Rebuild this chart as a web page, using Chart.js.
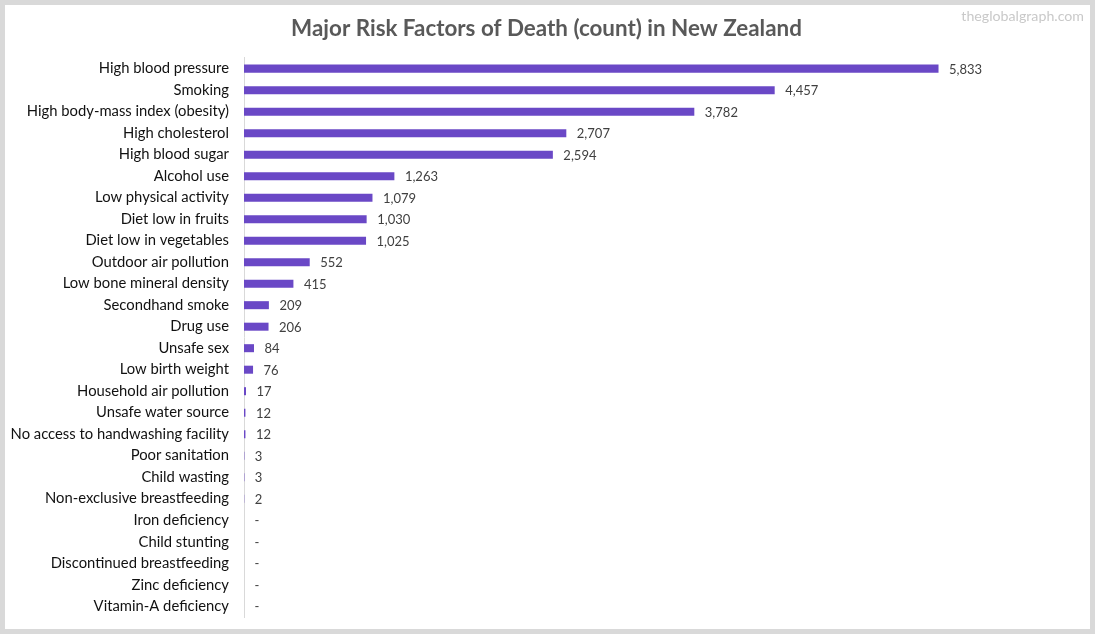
<!DOCTYPE html>
<html>
<head>
<meta charset="utf-8">
<script src="https://cdn.jsdelivr.net/npm/chart.js@4"></script>
<style>
    html, body { margin: 0; padding: 0; background: #fff; }
    .frame { position: relative; width: 1095px; height: 634px; box-sizing: border-box; border: 5px solid #d9d9d9; background: #fff; }
    canvas { position: absolute; left: -5px; top: -5px; }
</style>
</head>
<body>
<div class="frame"><canvas id="chart" width="1095" height="634"></canvas></div>
<script>
const categories = [
    'High blood pressure', 'Smoking', 'High body-mass index (obesity)', 'High cholesterol',
    'High blood sugar', 'Alcohol use', 'Low physical activity', 'Diet low in fruits',
    'Diet low in vegetables', 'Outdoor air pollution', 'Low bone mineral density', 'Secondhand smoke',
    'Drug use', 'Unsafe sex', 'Low birth weight', 'Household air pollution',
    'Unsafe water source', 'No access to handwashing facility', 'Poor sanitation', 'Child wasting',
    'Non-exclusive breastfeeding', 'Iron deficiency', 'Child stunting', 'Discontinued breastfeeding',
    'Zinc deficiency', 'Vitamin-A deficiency'
];
const deaths = [5833, 4457, 3782, 2707, 2594, 1263, 1079, 1030, 1025, 552, 415, 209, 206, 84, 76, 17, 12, 12, 3, 3, 2, 0, 0, 0, 0, 0];
const chartTitle = 'Major Risk Factors of Death (count) in New Zealand';
const watermark = 'theglobalgraph.com';

const fontName = 'Lato, "Open Sans", sans-serif';

// value labels at the bar ends, zeros show as a dash, plus the site name top right
const barLabels = {
    id: 'barLabels',
    afterDatasetsDraw(chart) {
        const ctx = chart.ctx;
        const meta = chart.getDatasetMeta(0);
        ctx.save();
        ctx.font = '13px ' + fontName;
        ctx.fillStyle = '#404040';
        ctx.textAlign = 'left';
        ctx.textBaseline = 'middle';
        meta.data.forEach((bar, i) => {
            const text = deaths[i] > 0 ? deaths[i].toLocaleString('en-US') : '-';
            ctx.fillText(text, bar.x + 10.5, bar.y + 1);
        });
        ctx.font = '14.2px ' + fontName;
        ctx.fillStyle = '#c9c9c9';
        ctx.textAlign = 'right';
        ctx.fillText(watermark, 1084, 16);
        ctx.restore();
    }
};

new Chart(document.getElementById('chart'), {
    type: 'bar',
    data: {
        labels: categories,
        datasets: [{
            data: deaths,
            backgroundColor: '#6a48c6',
            barPercentage: 1,
            categoryPercentage: 0.373
        }]
    },
    options: {
        indexAxis: 'y',
        responsive: false,
        animation: false,
        layout: { padding: { left: 6, right: 8, top: 0, bottom: 17 } },
        plugins: {
            legend: { display: false },
            tooltip: { enabled: false },
            title: {
                display: true,
                text: chartTitle,
                color: '#595959',
                font: { family: fontName, size: 22.4, weight: 'bold' },
                padding: { top: 15, bottom: 16 }
            }
        },
        scales: {
            x: { display: false, min: 0, max: 7080 },
            y: {
                afterFit(scale) { scale.width = 238; },
                grid: { display: false },
                border: { color: '#d9d9d9', width: 1 },
                ticks: {
                    autoSkip: false,
                    color: '#111',
                    padding: 7,
                    font: { family: fontName, size: 14.8 }
                }
            }
        }
    },
    plugins: [barLabels]
});
</script>
</body>
</html>
